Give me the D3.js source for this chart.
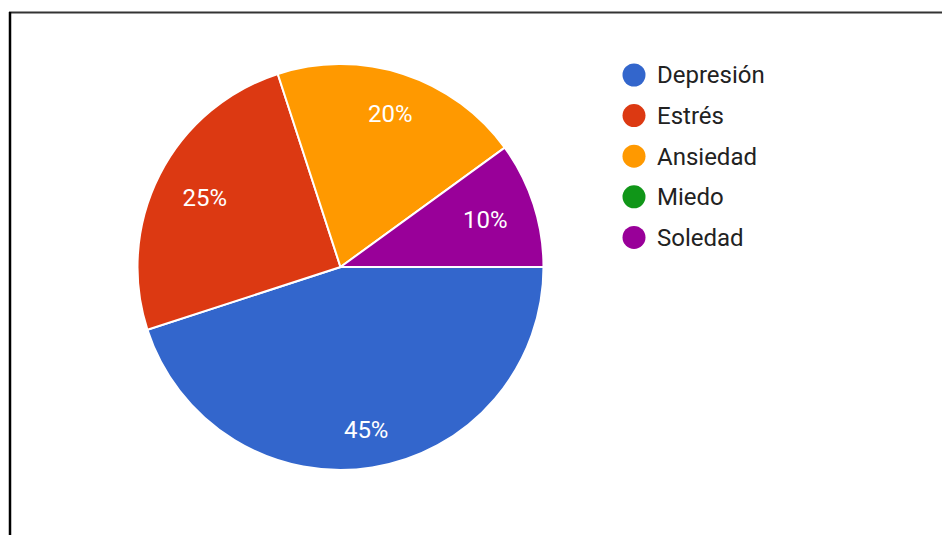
<!DOCTYPE html>
<html>
<head>
<meta charset="utf-8">
<script src="https://cdn.jsdelivr.net/npm/d3@7"></script>
<style>
  html, body { margin: 0; padding: 0; background: #fff; }
  svg { display: block; }
</style>
</head>
<body>
<svg id="chart" width="942" height="535"></svg>
<script>
// Category names, their shares (percent) and slice colours
const categories = ["Depresión", "Estrés", "Ansiedad", "Miedo", "Soledad"];
const values = [45, 25, 20, 0, 10];
const colors = ["#3366cc", "#dc3912", "#ff9900", "#109618", "#990099"];

const svg = d3.select("#chart");
const W = 942, H = 535;

// frame lines on the top and left edge
svg.append("line").attr("x1", 9).attr("x2", W).attr("y1", 12.5).attr("y2", 12.5)
  .attr("stroke", "#333").attr("stroke-width", 2);
svg.append("line").attr("x1", 10).attr("x2", 10).attr("y1", 12).attr("y2", H)
  .attr("stroke", "#000").attr("stroke-width", 2.5);

const cx = 340.5, cy = 267, r = 203;
const data = categories.map((c, i) => ({ name: c, value: values[i], color: colors[i] }));

const pie = d3.pie().value(d => d.value).sort(null)
  .startAngle(Math.PI / 2).endAngle(Math.PI / 2 + 2 * Math.PI);
const arcs = pie(data);
const arc = d3.arc().innerRadius(0).outerRadius(r);

const g = svg.append("g").attr("transform", `translate(${cx},${cy})`);
const shown = arcs.filter(d => d.data.value > 0);
g.selectAll("path.slice").data(shown).join("path")
  .attr("class", "slice")
  .attr("d", arc)
  .attr("fill", d => d.data.color)
  .attr("stroke", "#fff")
  .attr("stroke-width", 2);

// percentage labels: the label box is pushed out along the slice's mid-angle
// until its outermost corner touches a fixed inner radius
const total = d3.sum(values);
const labelReach = r * 0.867;
g.selectAll("text.pct").data(shown).join("text")
  .attr("class", "pct")
  .attr("text-anchor", "middle")
  .attr("dy", "0.35em")
  .attr("fill", "#fff")
  .attr("font-family", "Roboto, sans-serif")
  .attr("font-size", 24)
  .text(d => Math.round(d.data.value / total * 100) + "%")
  .attr("transform", function (d) {
    const a = (d.startAngle + d.endAngle) / 2;
    const ux = Math.sin(a), uy = -Math.cos(a);
    const bb = this.getBBox();
    const hw = bb.width / 2, hh = 8.5;
    const extent = hw * Math.abs(ux) + hh * Math.abs(uy);
    const dist = labelReach - extent;
    return `translate(${ux * dist},${uy * dist})`;
  });

// legend
const legend = svg.append("g").attr("transform", "translate(634,75)");
const rows = legend.selectAll("g").data(data).join("g")
  .attr("transform", (d, i) => `translate(0,${i * 40.6})`);
rows.append("circle").attr("r", 11.5).attr("fill", d => d.color);
rows.append("text")
  .attr("x", 23)
  .attr("dy", "0.35em")
  .attr("fill", "#222")
  .attr("font-family", "Roboto, sans-serif")
  .attr("font-size", 24)
  .text(d => d.name);
</script>
</body>
</html>
